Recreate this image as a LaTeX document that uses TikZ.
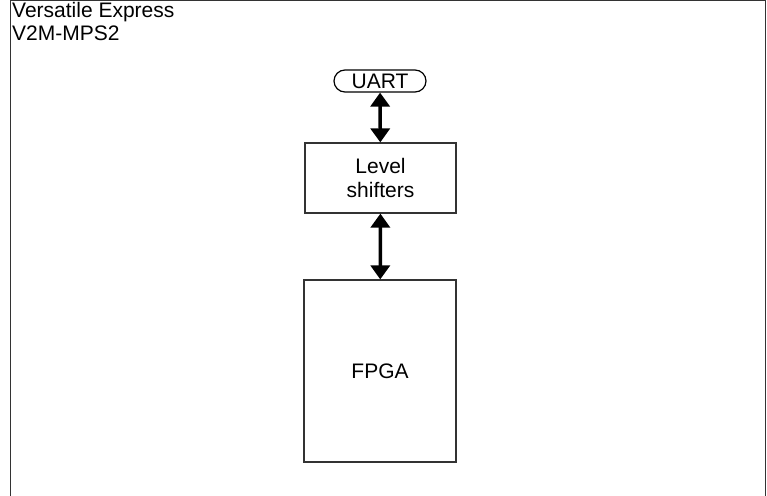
\documentclass[tikz,border=0pt]{standalone}
\usepackage{fontspec}
\setmainfont{Liberation Sans}
\usetikzlibrary{arrows.meta,shapes.misc}
\begin{document}
\begin{tikzpicture}[x=1pt,y=-1pt,
  box/.style={draw=black!80,line width=1.2pt,fill=white,inner sep=0pt,font=\fontsize{21}{24}\selectfont,align=center},
  pill/.style={draw=black,line width=1.2pt,rounded rectangle,inner sep=0pt,font=\fontsize{21}{21}\selectfont},
  biarrow/.style={line width=3.5pt,{Triangle[length=14pt,width=19pt]}-{Triangle[length=14pt,width=19pt]}}]
\useasboundingbox (0,0) rectangle (767,495);
\draw[black!80,line width=1.2pt] (10.5,500) -- (10.5,0.5) -- (765.5,0.5) -- (765.5,500);
\node[anchor=base west,align=left,inner sep=0pt,font=\fontsize{21}{23.5}\selectfont] (title) at (12,41) {Versatile Express\\V2M-MPS2};
\node[pill,minimum width=92pt,minimum height=22pt] (uart) at (380,81) {UART};
\node[box,minimum width=151pt,minimum height=70pt] (level) at (380.5,178) {Level\\shifters};
\node[box,minimum width=152pt,minimum height=182pt] (fpga) at (380,371) {FPGA};
\draw[biarrow] (uart) -- (level);
\draw[biarrow] (level) -- (fpga);
\end{tikzpicture}
\end{document}
